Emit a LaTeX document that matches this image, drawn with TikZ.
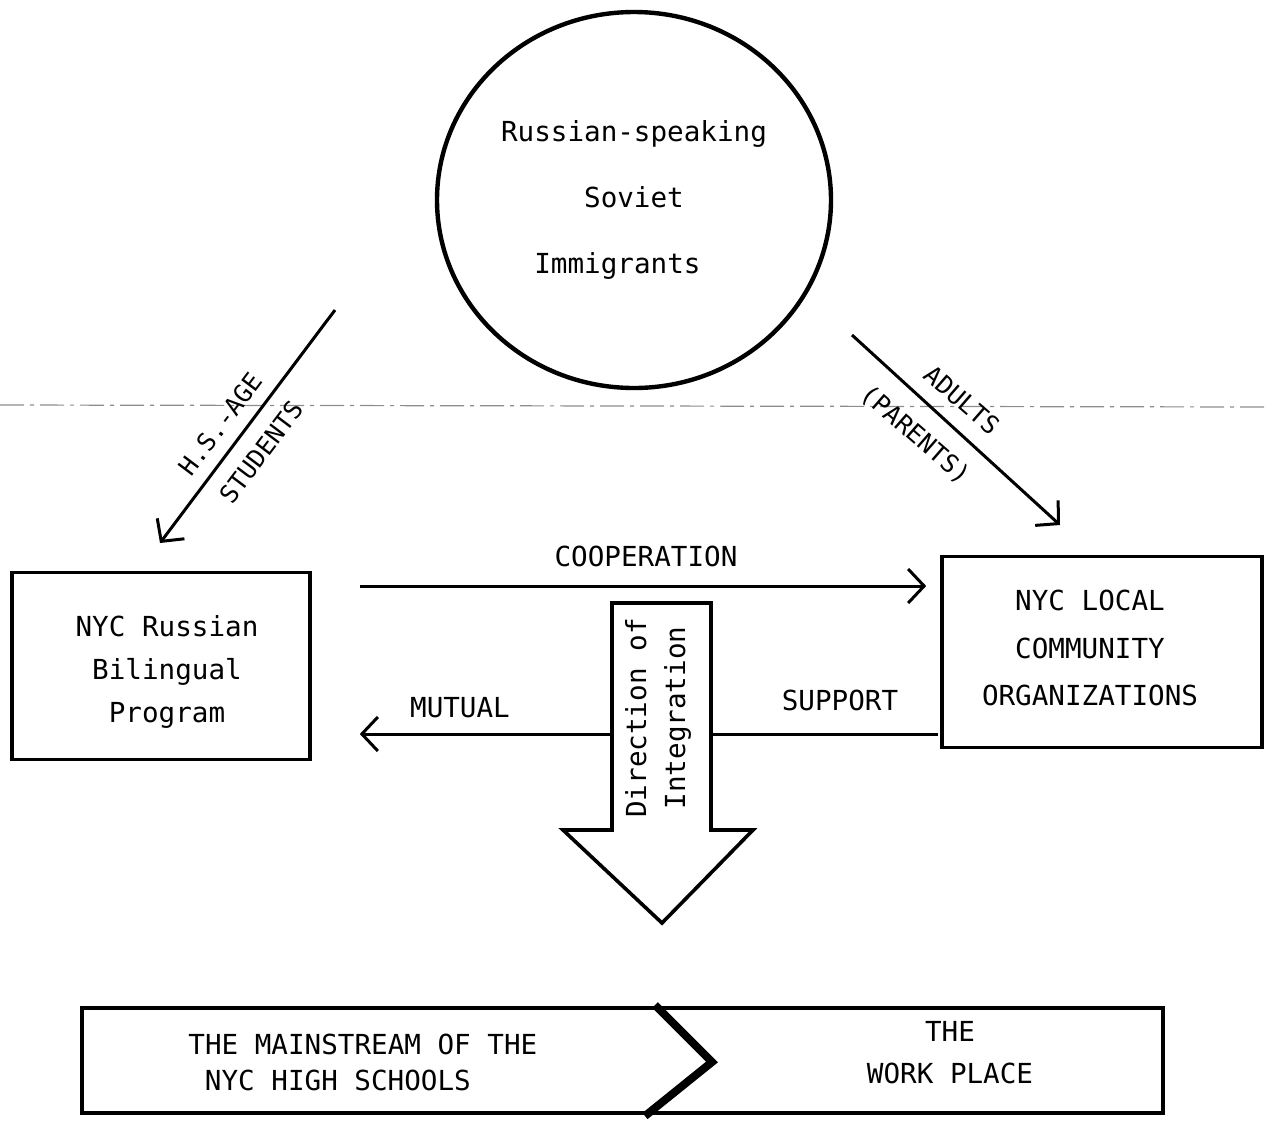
\documentclass[tikz,border=0pt]{standalone}
\usepackage{fontspec}
\setmainfont{DejaVu Sans Mono}
\usetikzlibrary{arrows.meta,shapes.geometric}
\begin{document}
\begin{tikzpicture}[x=0.5pt,y=-0.5pt,
  txt/.style={font=\fontsize{13.8}{17}\selectfont,inner sep=1pt},
  difont/.style={font=\fontsize{12.5}{15}\selectfont,inner sep=0pt},
  boxnode/.style={draw,line width=1.8pt,inner sep=0pt},
  boxtext/.style={align=center,inner sep=0pt},
  arr/.style={line width=1.5pt,-{Straight Barb[length=8pt,width=17pt]}},
]
\useasboundingbox (0,0) rectangle (1265,1131);

% faint scan line
\coordinate (scanL) at (0,405);
\coordinate (scanR) at (1265,407);
\draw[black!45,line width=0.6pt,dash pattern=on 12pt off 3pt on 2pt off 3pt] (scanL) -- (scanR);

% circle
\node[draw,ellipse,line width=2.2pt,minimum width=197pt,minimum height=188pt,inner sep=0pt,
      align=center,font=\fontsize{13.8}{33}\selectfont] (imm) at (634,200)
      {Russian-speaking\\Soviet\\\hspace*{-1.2em}Immigrants};

% boxes
\node[boxnode,minimum width=149pt,minimum height=93.5pt] (lbox) at (161,666) {};
\node[boxtext,font=\fontsize{13.8}{21.3}\selectfont] (ltxt) at (167,672)
      {NYC Russian\\Bilingual\\Program};
\node[boxnode,minimum width=160pt,minimum height=95.5pt] (rbox) at (1102,652) {};
\node[boxtext,font=\fontsize{13.8}{23.7}\selectfont] (rtxt) at (1090,648)
      {NYC LOCAL\\COMMUNITY\\ORGANIZATIONS};

% diagonal arrows
\coordinate (sA) at (335,310);
\coordinate (sB) at (160,543);
\draw[arr] (sA) -- (sB);
\node[difont,rotate=53] (hs) at (220,424) {H.S.-AGE};
\node[difont,rotate=53] (stu) at (261,452) {STUDENTS};

\coordinate (pA) at (852,335);
\coordinate (pB) at (1060,525);
\draw[arr] (pA) -- (pB);
\node[difont,rotate=-41] (ad) at (962,400) {ADULTS};
\node[difont,rotate=-41] (par) at (915,435) {(PARENTS)};

% cooperation / mutual support
\draw[arr,shorten <=24pt,shorten >=7pt] (lbox.east |- 0,586) -- (rbox.west |- 0,586);
\node[txt] (coop) at (646,556) {COOPERATION};
\draw[arr,shorten <=1pt,shorten >=24pt] (rbox.west |- 0,734) -- (lbox.east |- 0,734);
\node[txt] (mut) at (460,708) {MUTUAL};
\node[txt] (sup) at (840,700) {SUPPORT};

% big arrow
\draw[line width=1.8pt,fill=white,line join=miter] (612,603) -- (711,603) -- (711,830) -- (753,830)
      -- (662,923) -- (563,830) -- (612,830) -- cycle;
\node[rotate=90,align=center,font=\fontsize{13.8}{19.5}\selectfont,inner sep=0pt] (dir) at (658,718)
      {Direction of\\Integration};

% bottom box
\node[draw,line width=1.8pt,minimum width=540.5pt,minimum height=52.5pt,inner sep=0pt] (main) at (622.5,1060.5) {};
\draw[line width=4pt,line join=miter] (655,1005) -- (712,1062) -- (645,1116);
\node[anchor=west,align=left,font=\fontsize{13.8}{18}\selectfont,inner sep=0pt] (hsch) at (188,1062)
      {THE MAINSTREAM OF THE\\\hspace*{0.6em}NYC HIGH SCHOOLS};
\node[align=center,font=\fontsize{13.8}{21}\selectfont,inner sep=0pt] (work) at (950,1053)
      {THE\\WORK PLACE};
\end{tikzpicture}
\end{document}
